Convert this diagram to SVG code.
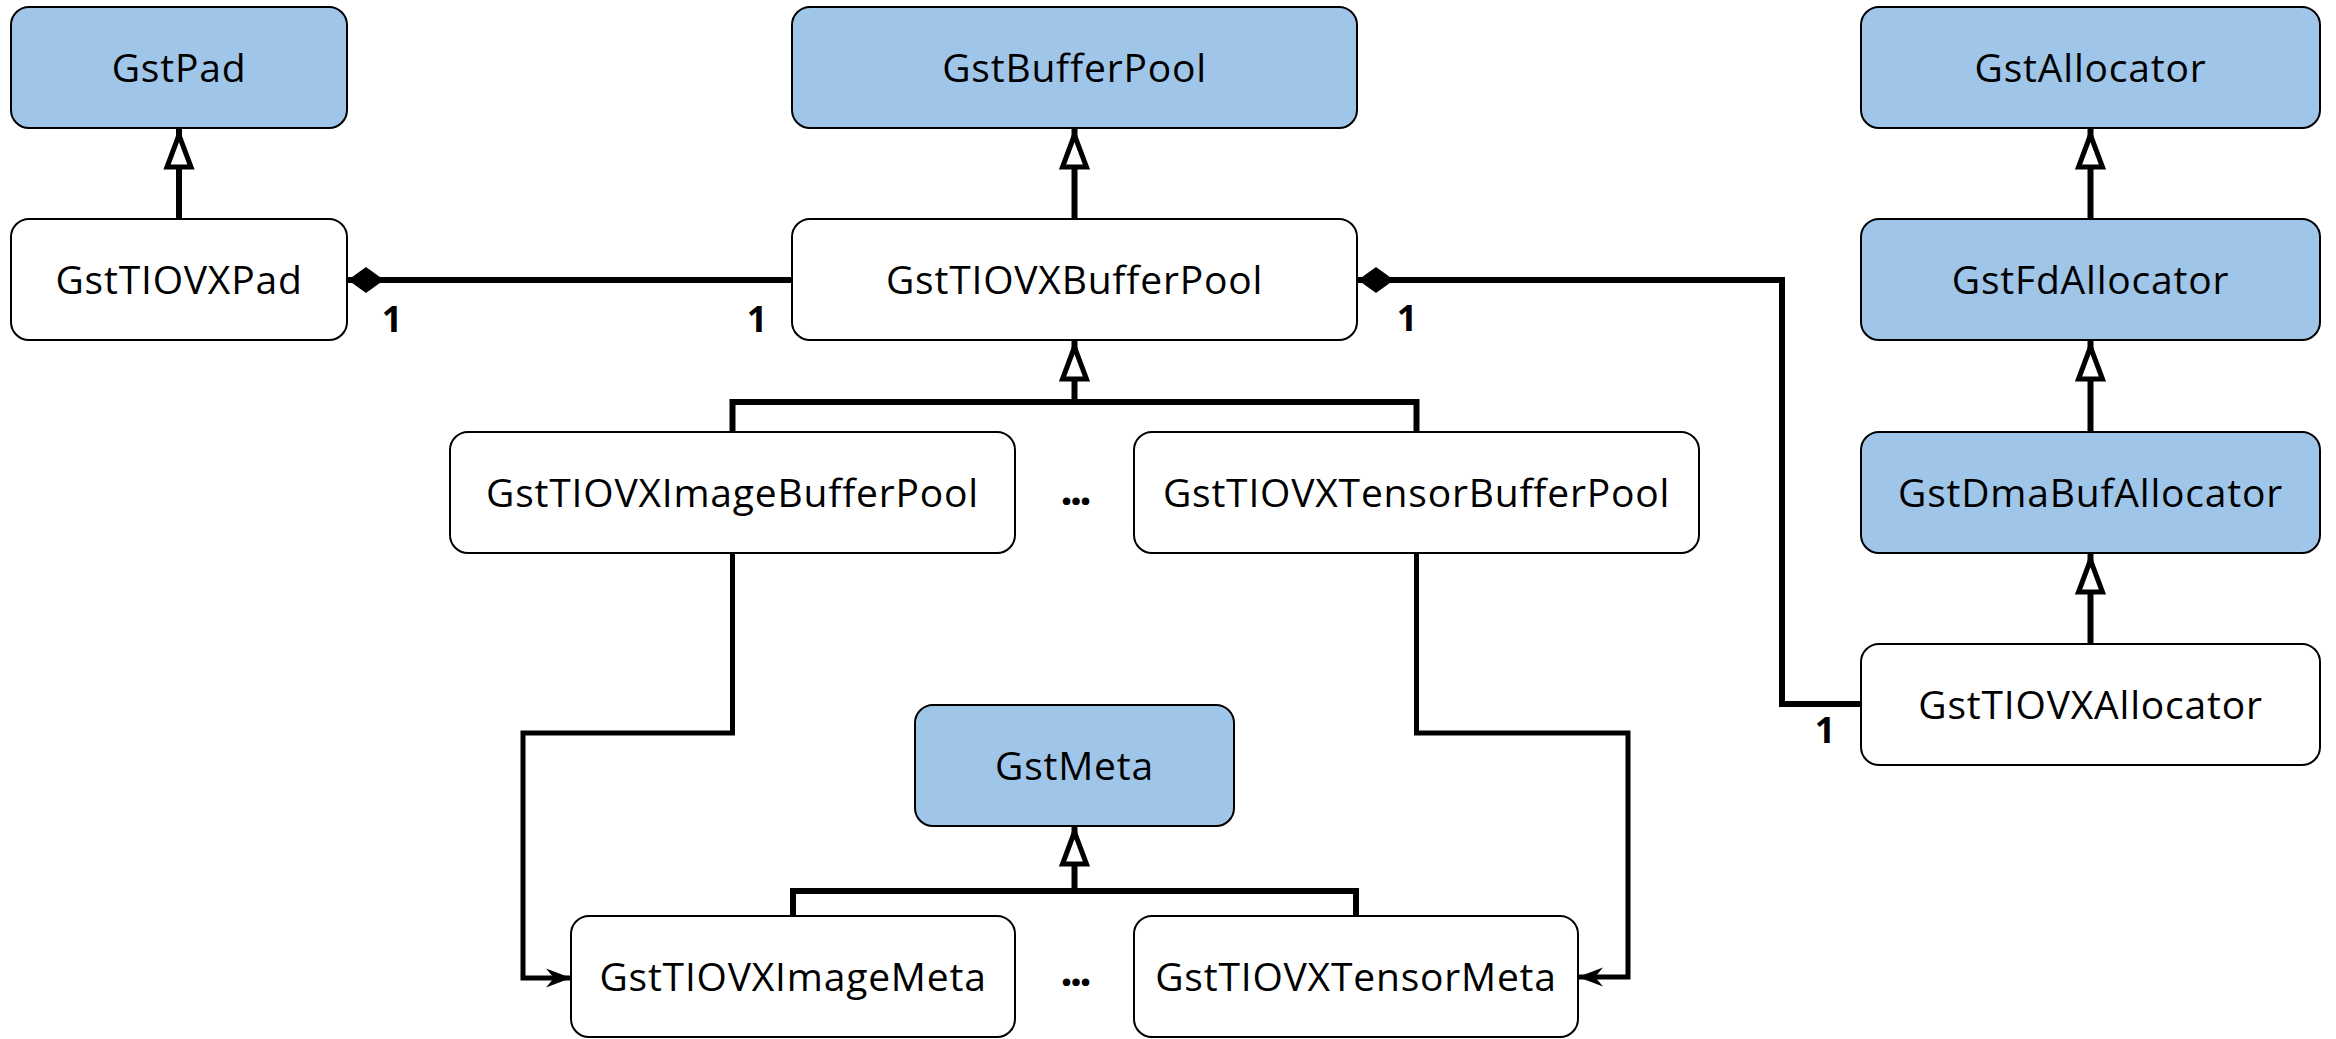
<svg xmlns="http://www.w3.org/2000/svg" width="2336" height="1039" viewBox="0 0 2336 1039">
  <style>
    .box { stroke: #000; stroke-width: 2; }
    .base { fill: #9fc5e8; }
    .own { fill: #ffffff; }
    .lbl { font-family: "Open Sans", "Noto Sans", "Liberation Sans", sans-serif; font-size: 39px; fill: #000; text-anchor: middle; letter-spacing: 0.8px; }
    .mult { font-family: "Open Sans", "Noto Sans", "Liberation Sans", sans-serif; font-size: 36px; font-weight: bold; fill: #000; text-anchor: middle; }
    .dots { font-family: "Open Sans", "Noto Sans", "Liberation Sans", sans-serif; font-size: 44px; font-weight: bold; fill: #000; text-anchor: middle; letter-spacing: -3px; }
    .inh { fill: none; stroke: #000; stroke-width: 6; }
    .cmp { fill: none; stroke: #000; stroke-width: 6; }
    .use { fill: none; stroke: #000; stroke-width: 5; }
  </style>
  <defs>
    <!-- hollow triangle: generalization -->
    <marker id="gen" markerUnits="userSpaceOnUse" viewBox="-46 -20 50 40" refX="0" refY="0" markerWidth="50" markerHeight="40" orient="auto">
      <polygon points="-6,0 -38,-12 -38,12" fill="#fff" stroke="#000" stroke-width="5" stroke-linejoin="miter"/>
    </marker>
    <!-- filled diamond: composition -->
    <marker id="comp" markerUnits="userSpaceOnUse" viewBox="-40 -16 42 32" refX="0" refY="0" markerWidth="42" markerHeight="32" orient="auto">
      <polygon points="0,0 -18,-13 -36,0 -18,13" fill="#000"/>
    </marker>
    <!-- notched filled arrow: reference -->
    <marker id="ref" markerUnits="userSpaceOnUse" viewBox="-30 -12 32 24" refX="0" refY="0" markerWidth="32" markerHeight="24" orient="auto">
      <polygon points="0,0 -25,-9.5 -17,0 -25,9.5" fill="#000"/>
    </marker>
  </defs>

  <g id="connectors">
    <!-- inheritance -->
    <path class="inh" d="M179,219 V129" marker-end="url(#gen)"/>
    <path class="inh" d="M1074.5,219 V129" marker-end="url(#gen)"/>
    <path class="inh" d="M2090.5,219 V129" marker-end="url(#gen)"/>
    <path class="inh" d="M2090.5,432 V341" marker-end="url(#gen)"/>
    <path class="inh" d="M2090.5,644 V554" marker-end="url(#gen)"/>
    <path class="inh" d="M732.5,432 V402 H1416.5 V432"/>
    <path class="inh" d="M1074.5,402 V341" marker-end="url(#gen)"/>
    <path class="inh" d="M793,916 V891 H1356 V916"/>
    <path class="inh" d="M1074.5,891 V826" marker-end="url(#gen)"/>
    <!-- composition -->
    <path class="cmp" d="M792,280 H348" marker-end="url(#comp)"/>
    <path class="cmp" d="M1861,704 H1782 V280 H1358" marker-end="url(#comp)"/>
    <!-- meta references -->
    <path class="use" d="M732.5,553 V733 H523 V978 H571" marker-end="url(#ref)"/>
    <path class="use" d="M1416.5,553 V733 H1628 V977 H1578" marker-end="url(#ref)"/>
    <!-- multiplicities -->
    <text class="mult" x="392" y="332">1</text>
    <text class="mult" x="757" y="332">1</text>
    <text class="mult" x="1407" y="331">1</text>
    <text class="mult" x="1825" y="743">1</text>
    <!-- elided siblings -->
    <text class="dots" x="1074.5" y="505">...</text>
    <text class="dots" x="1074.5" y="986">...</text>
  </g>

  <g id="GstPad">
    <rect class="box base" x="11" y="7" width="336" height="121" rx="18"/>
    <text class="lbl" x="179" y="82">GstPad</text>
  </g>
  <g id="GstBufferPool">
    <rect class="box base" x="792" y="7" width="565" height="121" rx="18"/>
    <text class="lbl" x="1074.5" y="82">GstBufferPool</text>
  </g>
  <g id="GstAllocator">
    <rect class="box base" x="1861" y="7" width="459" height="121" rx="18"/>
    <text class="lbl" x="2090.5" y="82">GstAllocator</text>
  </g>
  <g id="GstTIOVXPad">
    <rect class="box own" x="11" y="219" width="336" height="121" rx="18"/>
    <text class="lbl" x="179" y="294">GstTIOVXPad</text>
  </g>
  <g id="GstTIOVXBufferPool">
    <rect class="box own" x="792" y="219" width="565" height="121" rx="18"/>
    <text class="lbl" x="1074.5" y="294">GstTIOVXBufferPool</text>
  </g>
  <g id="GstFdAllocator">
    <rect class="box base" x="1861" y="219" width="459" height="121" rx="18"/>
    <text class="lbl" x="2090.5" y="294">GstFdAllocator</text>
  </g>
  <g id="GstTIOVXImageBufferPool">
    <rect class="box own" x="450" y="432" width="565" height="121" rx="18"/>
    <text class="lbl" x="732.5" y="507">GstTIOVXImageBufferPool</text>
  </g>
  <g id="GstTIOVXTensorBufferPool">
    <rect class="box own" x="1134" y="432" width="565" height="121" rx="18"/>
    <text class="lbl" x="1416.5" y="507">GstTIOVXTensorBufferPool</text>
  </g>
  <g id="GstDmaBufAllocator">
    <rect class="box base" x="1861" y="432" width="459" height="121" rx="18"/>
    <text class="lbl" x="2090.5" y="507">GstDmaBufAllocator</text>
  </g>
  <g id="GstTIOVXAllocator">
    <rect class="box own" x="1861" y="644" width="459" height="121" rx="18"/>
    <text class="lbl" x="2090.5" y="719">GstTIOVXAllocator</text>
  </g>
  <g id="GstMeta">
    <rect class="box base" x="915" y="705" width="319" height="121" rx="18"/>
    <text class="lbl" x="1074.5" y="780">GstMeta</text>
  </g>
  <g id="GstTIOVXImageMeta">
    <rect class="box own" x="571" y="916" width="444" height="121" rx="18"/>
    <text class="lbl" x="793" y="991">GstTIOVXImageMeta</text>
  </g>
  <g id="GstTIOVXTensorMeta">
    <rect class="box own" x="1134" y="916" width="444" height="121" rx="18"/>
    <text class="lbl" x="1356" y="991">GstTIOVXTensorMeta</text>
  </g>
</svg>
